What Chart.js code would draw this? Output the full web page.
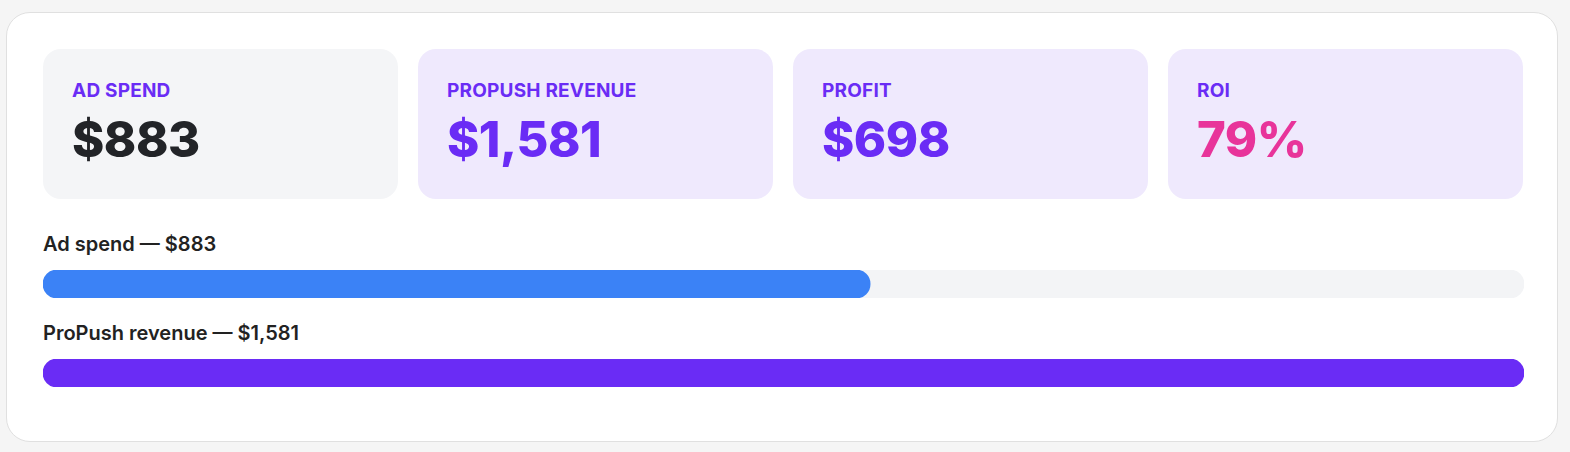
<!DOCTYPE html>
<html>
<head>
<meta charset="utf-8">
<script src="https://cdn.jsdelivr.net/npm/chart.js@4"></script>
<style>
  body { margin:0; background:#f5f5f5; font-family:Inter, "Noto Sans", sans-serif; }
  .card { position:absolute; left:6px; top:12px; width:1552px; height:430px; background:#fff;
          border:1px solid #e0e0e0; border-radius:24px; box-sizing:border-box; }
  .tiles { position:absolute; left:36px; top:36px; display:flex; gap:20px; }
  .tile { width:355px; height:150px; border-radius:18px; background:#efe9fd; box-sizing:border-box; padding:30px 29px; }
  .tile.grey { background:#f4f5f7; }
  .tile .k { color:#6a2cf5; font-weight:700; font-size:19px; letter-spacing:0.2px; }
  .tile .v { font-weight:800; font-size:49px; margin-top:8px; color:#6a2cf5; letter-spacing:-0.5px; }
  .lbl { position:absolute; left:36px; font-size:20px; font-weight:600; color:#222; }
  .bar { position:absolute; left:36px; width:1481px; height:28px; }
</style>
</head>
<body>
<div class="card">
  <div class="tiles" id="tiles"></div>
  <div class="lbl" id="l0" style="top:219px"></div>
  <div class="bar" style="top:257px"><canvas id="c0"></canvas></div>
  <div class="lbl" id="l1" style="top:308px"></div>
  <div class="bar" style="top:346px"><canvas id="c1"></canvas></div>
</div>
<script>
// kpi tiles
var kpiNames = ['AD SPEND', 'PROPUSH REVENUE', 'PROFIT', 'ROI'];
var kpiValues = ['$883', '$1,581', '$698', '79%'];
var kpiColors = ['#222428', '#6a2cf5', '#6a2cf5', '#e8349a'];

// progress bars
var barLabels = ['Ad spend', 'ProPush revenue'];
var barValues = [883, 1581];
var barColors = ['#3b82f6', '#6a2cf5'];
var barMax = 1581;

var tiles = document.getElementById('tiles');
for (var i = 0; i < kpiNames.length; i++) {
    var t = document.createElement('div');
    t.className = 'tile' + (i == 0 ? ' grey' : '');
    t.innerHTML = '<div class="k">' + kpiNames[i] + '</div><div class="v" style="color:' + kpiColors[i] + '">' + kpiValues[i] + '</div>';
    tiles.appendChild(t);
}

for (var j = 0; j < barValues.length; j++) {
    document.getElementById('l' + j).textContent = barLabels[j] + ' — $' + barValues[j].toLocaleString('en-US');
    new Chart(document.getElementById('c' + j), {
        type: 'bar',
        data: {
            labels: [barLabels[j]],
            datasets: [
                {data: [barValues[j]], backgroundColor: barColors[j], grouped: false, order: 0,
                 borderRadius: 14, borderSkipped: false, barPercentage: 1, categoryPercentage: 1},
                {data: [barMax], backgroundColor: '#f3f4f6', grouped: false, order: 1,
                 borderRadius: 14, borderSkipped: false, barPercentage: 1, categoryPercentage: 1}
            ]
        },
        options: {
            indexAxis: 'y',
            responsive: true,
            maintainAspectRatio: false,
            animation: false,
            layout: {padding: 0},
            plugins: {legend: {display: false}, tooltip: {enabled: false}},
            scales: {
                x: {display: false, min: 0, max: barMax},
                y: {display: false}
            }
        }
    });
}
</script>
</body>
</html>
